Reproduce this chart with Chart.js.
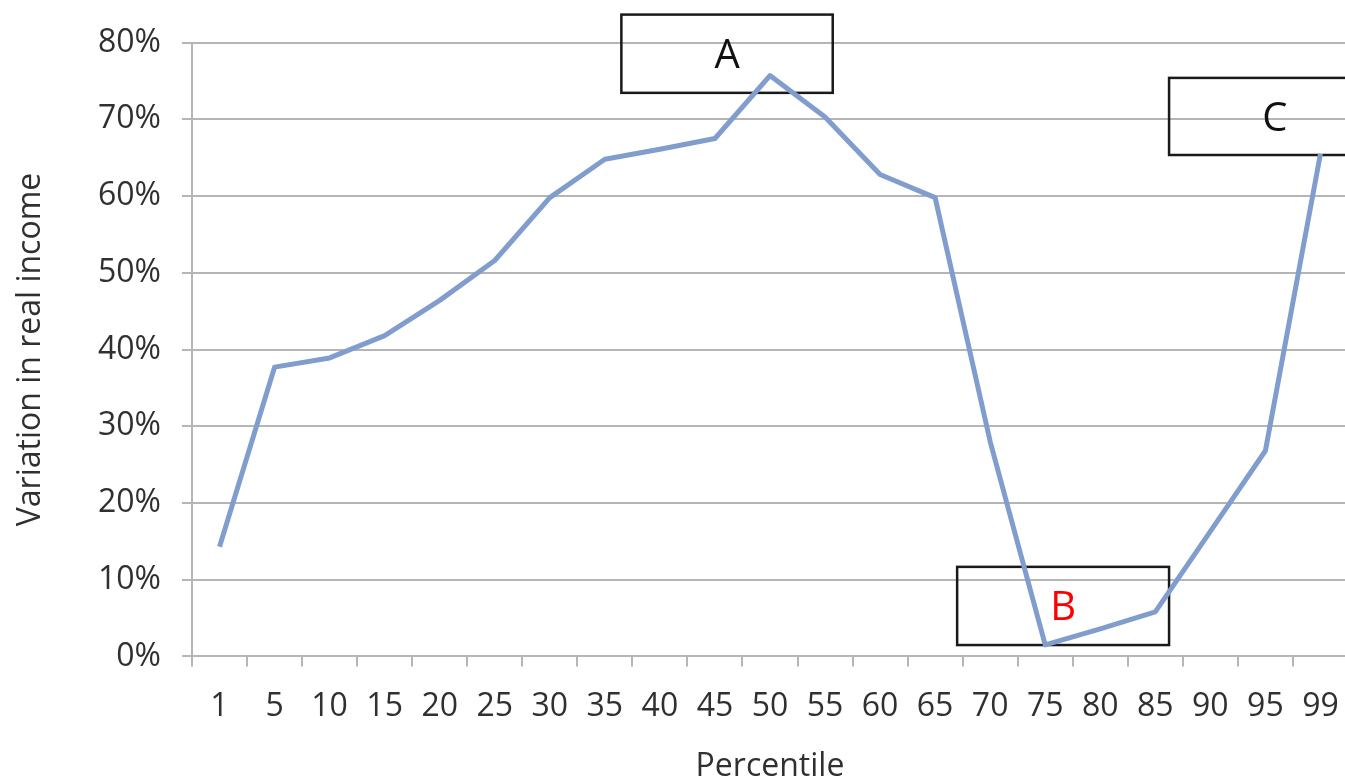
<!DOCTYPE html>
<html>
<head>
<meta charset="utf-8">
<script src="https://cdn.jsdelivr.net/npm/chart.js@4"></script>
<style>
  html, body { margin: 0; padding: 0; background: #fff; overflow: hidden; }
  #wrap { width: 1360px; height: 790px; }
</style>
</head>
<body>
<div id="wrap"><canvas id="lineChart" width="1360" height="790"></canvas></div>
<script>
// percentile groups (x axis)
const percentiles = ['1', '5', '10', '15', '20', '25', '30', '35', '40', '45', '50',
                     '55', '60', '65', '70', '75', '80', '85', '90', '95', '99'];
// variation in real income, in %
const incomeChange = [14.3, 37.7, 38.9, 41.8, 46.4, 51.6, 59.8, 64.8, 66.1, 67.5, 75.7,
                      70.3, 62.8, 59.8, 28.0, 1.5, 3.6, 5.8, 16.3, 26.8, 65.5];
const yTicks = [0, 10, 20, 30, 40, 50, 60, 70, 80];

const textColor = '#303030';
const gridColor = '#b5b5b5';

// callout boxes, placed in axis units (category index / percent)
const callouts = [
    { text: 'A', color: '#111', x0: 7.30, x1: 11.14, y0: 83.65, y1: 73.45 },
    { text: 'B', color: '#ff0000', x0: 13.40, x1: 17.25, y0: 11.67, y1: 1.48 },
    { text: 'C', color: '#111', x0: 17.25, x1: 21.09, y0: 75.4, y1: 65.35 }
];

const calloutPlugin = {
    id: 'callouts',
    beforeDatasetsDraw(chart) {
        const ctx = chart.ctx;
        const xs = chart.scales.x, ys = chart.scales.y;
        ctx.save();
        callouts.forEach(c => {
            const l = xs.getPixelForValue(c.x0), r = xs.getPixelForValue(c.x1);
            const t = ys.getPixelForValue(c.y0), b = ys.getPixelForValue(c.y1);
            ctx.lineWidth = 2.5;
            ctx.strokeStyle = '#1a1a1a';
            ctx.strokeRect(l, t, r - l, b - t);
            ctx.fillStyle = c.color;
            ctx.font = '40px "Open Sans"';
            ctx.textAlign = 'center';
            ctx.textBaseline = 'middle';
            ctx.fillText(c.text, (l + r) / 2, (t + b) / 2 + 3);
        });
        ctx.restore();
    }
};

const ctx = document.getElementById('lineChart').getContext('2d');
const lineChart = new Chart(ctx, {
    type: 'line',
    data: {
        labels: percentiles,
        datasets: [{
            label: 'Variation in real income',
            data: incomeChange,
            borderColor: '#809dce',
            borderWidth: 5,
            borderJoinStyle: 'round',
            pointRadius: 0,
            tension: 0,
            fill: false
        }]
    },
    options: {
        responsive: false,
        animation: false,
        layout: { padding: { top: 42.6, right: 11, left: 0, bottom: 0 } },
        plugins: {
            legend: { display: false },
            tooltip: { enabled: false }
        },
        scales: {
            x: {
                offset: true,
                grid: {
                    offset: true,
                    drawOnChartArea: false,
                    drawTicks: true,
                    tickLength: 10,
                    color: gridColor,
                    lineWidth: 2
                },
                border: { color: gridColor, width: 2 },
                ticks: {
                    color: textColor,
                    font: { family: 'Open Sans', size: 32 },
                    padding: 21,
                    maxRotation: 0,
                    autoSkip: false
                },
                title: {
                    display: true,
                    text: 'Percentile',
                    color: textColor,
                    font: { family: 'Open Sans', size: 32 },
                    padding: { top: 0, bottom: 4 }
                },
                afterFit(scale) { scale.height = 790 - 656.4; }
            },
            y: {
                min: 0,
                max: 80,
                afterBuildTicks(scale) { scale.ticks = yTicks.map(v => ({ value: v })); },
                grid: {
                    color: gridColor,
                    lineWidth: 2,
                    tickLength: 10
                },
                border: { color: gridColor, width: 2 },
                ticks: {
                    color: textColor,
                    font: { family: 'Open Sans', size: 32 },
                    padding: 21,
                    callback: v => v + '%'
                },
                title: {
                    display: true,
                    text: 'Variation in real income',
                    color: textColor,
                    font: { family: 'Open Sans', size: 32 },
                    padding: { top: 12, bottom: 0 }
                },
                afterFit(scale) { scale.width = 192; }
            }
        }
    },
    plugins: [calloutPlugin]
});
</script>
</body>
</html>
